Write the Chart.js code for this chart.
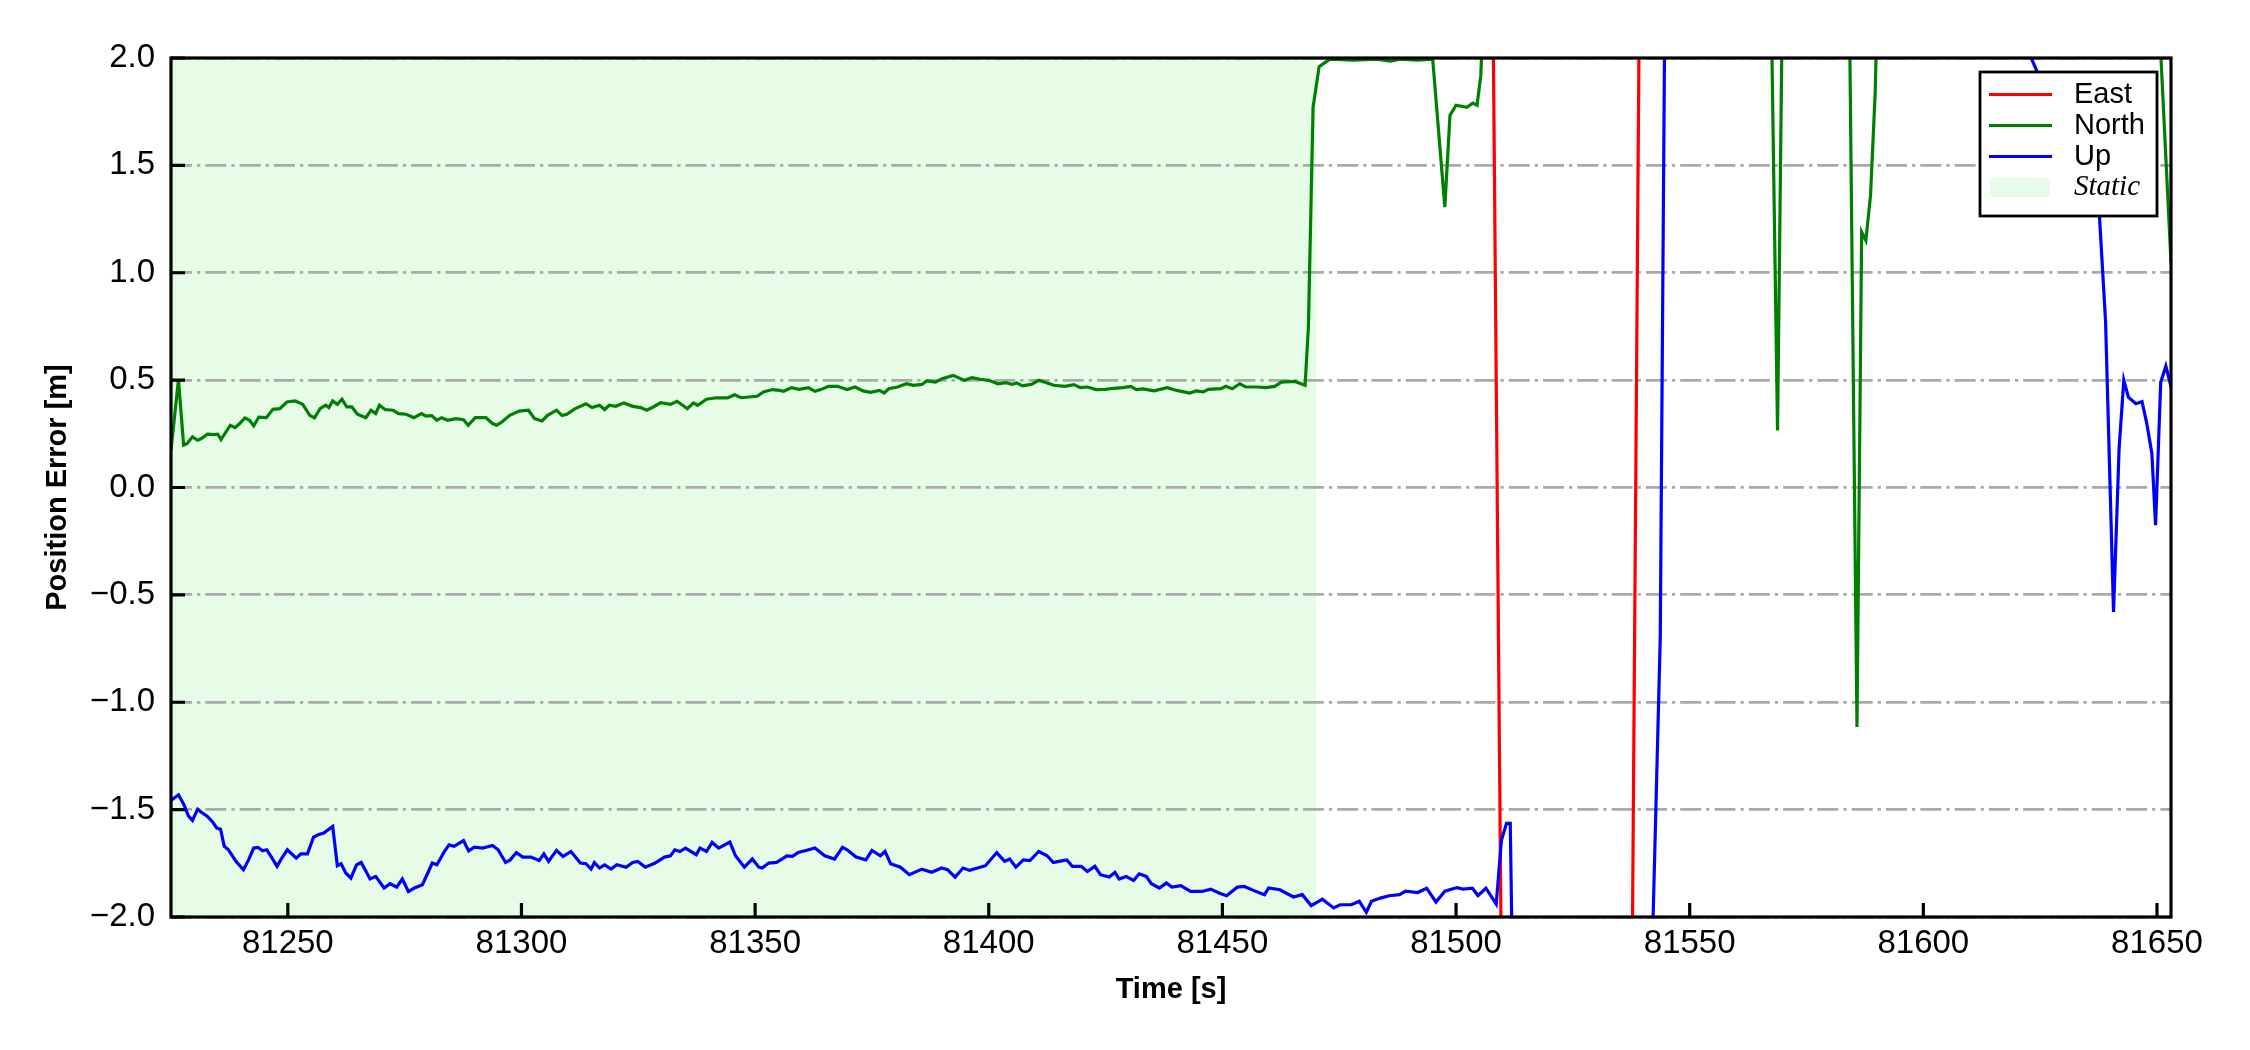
<!DOCTYPE html>
<html>
<head>
<meta charset="utf-8">
<script src="https://cdn.jsdelivr.net/npm/chart.js@4.4.0/dist/chart.umd.min.js"></script>
<style>
    html, body { margin: 0; padding: 0; background: #fff; }
    #quadro { width: 2250px; height: 1050px; }
</style>
</head>
<body>
<div id="quadro"><canvas id="grafico" width="2250" height="1050"></canvas></div>
<script>
// eixos
const xTicks = [81250, 81300, 81350, 81400, 81450, 81500, 81550, 81600, 81650];
const yTicks = [-2.0, -1.5, -1.0, -0.5, 0.0, 0.5, 1.0, 1.5, 2.0];
const xRange = [81225, 81653];
const yRange = [-2, 2];
const staticSpan = [81225, 81470];
const staticLabel = 'Static';
const seriesLabels = ['East', 'North', 'Up'];

// East: fora da escala quase o tempo todo
const eastTime = [81225, 81507.8, 81509.8, 81537.6, 81539.3, 81653];
const eastErr = [2.8, 2.5, -2.5, -2.5, 2.5, 2.8];

// North
const northTime = [
    81225, 81226.6, 81227.7, 81228.4, 81229.6, 81230.7, 81231.5, 81232.8, 81234.2, 81235.0,
    81235.7, 81237.7, 81238.7, 81239.7, 81240.8, 81241.8, 81242.7, 81243.8, 81245.4, 81246.8,
    81248.3, 81249.8, 81251.6, 81253.2, 81254.7, 81255.7, 81256.9, 81258.1, 81258.8, 81259.6,
    81260.6, 81261.6, 81262.6, 81263.7, 81264.9, 81266.7, 81267.8, 81268.8, 81269.6, 81270.8,
    81272.5, 81273.7, 81275.3, 81277.0, 81278.6, 81279.6, 81280.8, 81281.9, 81282.9, 81284.2,
    81286.0, 81287.6, 81288.6, 81290.1, 81292.4, 81293.8, 81294.7, 81295.8, 81297.5, 81299.5,
    81301.5, 81302.8, 81304.4, 81305.6, 81307.5, 81308.7, 81309.7, 81311.4, 81313.8, 81315.1,
    81316.7, 81317.8, 81318.8, 81320.2, 81321.9, 81323.8, 81325.5, 81326.8, 81328.2, 81329.8,
    81331.9, 81333.3, 81334.5, 81335.5, 81336.8, 81337.7, 81339.6, 81341.7, 81344.1, 81345.6,
    81347.0,
    81350.4, 81351.8, 81353.7, 81355.2, 81356.1, 81357.8, 81359.4, 81361.4, 81362.8, 81364.2,
    81365.7, 81367.6, 81369.7, 81371.4, 81373.1, 81374.7, 81376.6, 81377.6, 81378.6, 81380.5,
    81382.4, 81383.8, 81385.7, 81386.7, 81388.6, 81390.0, 81392.4, 81394.8, 81396.4, 81398.1,
    81400.0, 81402.0, 81403.7, 81405.0, 81406.0, 81407.2, 81409.1, 81410.7, 81412.5, 81413.9,
    81416.3, 81418.2, 81419.6, 81421.1, 81423.0, 81424.9, 81426.8, 81428.7, 81430.4, 81431.6,
    81433.0, 81435.4, 81438.2, 81440.2, 81443.0, 81444.4, 81445.9, 81447.0, 81449.7, 81450.7,
    81452.1, 81453.7, 81455.0, 81457.3, 81459.3, 81461.2, 81462.6, 81465.5, 81467.7,
    81468.4, 81469.4, 81470.7, 81471.7, 81473, 81478, 81483, 81486, 81488, 81491.8,
    81495, 81497.6, 81498.7, 81500, 81502.3, 81503.6, 81504.5, 81505.3, 81506.5, 81530,
    81567.2, 81568.8, 81570.0, 81577, 81584.0, 81585.8, 81586.8, 81587.7, 81588.7, 81589.7,
    81590.5, 81620, 81649.5, 81653
];
const northErr = [
    0.174, 0.502, 0.197, 0.204, 0.236, 0.22, 0.228, 0.248, 0.246, 0.248,
    0.223, 0.29, 0.279, 0.298, 0.324, 0.313, 0.287, 0.328, 0.325, 0.364,
    0.367, 0.398, 0.403, 0.387, 0.336, 0.324, 0.367, 0.383, 0.372, 0.403,
    0.387, 0.411, 0.375, 0.375, 0.341, 0.325, 0.36, 0.344, 0.383, 0.363,
    0.36, 0.344, 0.341, 0.325, 0.344, 0.332, 0.335, 0.313, 0.325, 0.313,
    0.321, 0.316, 0.29, 0.325, 0.325, 0.298, 0.29, 0.305, 0.336, 0.356,
    0.36, 0.321, 0.31, 0.336, 0.36, 0.335, 0.341, 0.366, 0.39, 0.372,
    0.383, 0.363, 0.383, 0.378, 0.394, 0.378, 0.372, 0.36, 0.375, 0.395,
    0.387, 0.401, 0.383, 0.367, 0.394, 0.383, 0.411, 0.418, 0.417, 0.432,
    0.418,
    0.425, 0.445, 0.456, 0.452, 0.448, 0.465, 0.457, 0.465, 0.448, 0.457,
    0.471, 0.471, 0.456, 0.468, 0.45, 0.443, 0.452, 0.44, 0.46, 0.468,
    0.483, 0.476, 0.48, 0.496, 0.491, 0.507, 0.522, 0.499, 0.511, 0.504,
    0.499, 0.483, 0.488, 0.48, 0.487, 0.473, 0.48, 0.499, 0.487, 0.476,
    0.471, 0.479, 0.465, 0.468, 0.456, 0.457, 0.462, 0.465, 0.471, 0.456,
    0.459, 0.45, 0.465, 0.452, 0.44, 0.45, 0.445, 0.457, 0.46, 0.471,
    0.46, 0.483, 0.468, 0.468, 0.465, 0.471, 0.491, 0.494, 0.476,
    0.745, 1.77, 1.96, 1.975, 1.995, 1.99, 1.995, 1.985, 1.995, 1.99,
    1.995, 1.306, 1.733, 1.78, 1.77, 1.79, 1.78, 1.92, 2.6, 2.6,
    2.6, 0.265, 2.6, 2.6, 2.6, -1.115, 1.19, 1.15, 1.36, 1.84,
    2.6, 2.6, 2.6, 1.05
];

// Up
const upTime = [
    81225, 81226.6, 81227.8, 81228.7, 81229.6, 81230.7, 81231.5, 81232.8, 81234.0, 81234.8,
    81235.6, 81236.4, 81237.3, 81238.9, 81240.5, 81241.6, 81242.7, 81243.6, 81244.6, 81245.5,
    81246.5, 81247.7, 81248.7, 81249.9, 81251.8, 81252.8, 81254.2, 81255.5, 81256.5, 81257.7,
    81259.6, 81260.6, 81261.4, 81262.4, 81263.5, 81264.7, 81265.7, 81267.6, 81268.8, 81270.6,
    81271.9, 81273.3, 81274.5, 81275.8, 81277.1, 81278.8, 81280.1, 81280.9, 81281.9, 81283.5,
    81284.5, 81285.6, 81287.6, 81288.7, 81289.9, 81291.7, 81293.8, 81295.0, 81296.6, 81297.6,
    81298.9, 81300.3, 81302.0, 81303.8, 81304.8, 81305.8, 81307.5, 81308.9, 81310.6, 81312.6,
    81313.8, 81314.9, 81315.6, 81316.7, 81317.8, 81319.2, 81320.4, 81322.4, 81323.8, 81324.9,
    81326.5, 81328.6, 81330.6, 81331.9, 81332.8, 81333.9, 81335.1, 81337.4,
    81338.2, 81339.6, 81340.8, 81342.2, 81344.6, 81345.8, 81347.7, 81349.4, 81350.8, 81351.5,
    81352.9, 81354.6, 81356.8, 81358.0, 81359.2, 81360.9, 81362.8, 81364.9, 81367.0, 81368.7,
    81369.7, 81371.6, 81373.7, 81375.0, 81376.8, 81377.8, 81379.0, 81381.1, 81383.0, 81385.7,
    81387.8, 81389.9, 81391.2, 81392.8, 81394.5, 81395.9, 81399.3, 81401.7, 81403.4, 81404.5,
    81405.8, 81407.4, 81408.8, 81410.7, 81412.5, 81413.8, 81415.0, 81416.7, 81417.9, 81419.8,
    81421.1, 81422.7, 81423.9, 81425.8, 81427.0, 81427.9, 81429.4, 81431.0, 81432.2, 81433.7,
    81434.8, 81436.5, 81438.0, 81439.2, 81441.1, 81443.2, 81445.6, 81447.5, 81449.4, 81450.9,
    81453.2, 81454.7, 81456.6, 81459.0, 81459.9, 81462.3, 81465.2, 81467.1, 81469.0, 81471.4,
    81473.8, 81475.2, 81477.6, 81479.3, 81480.8, 81481.9, 81483.8, 81485.7, 81487.9,
    81489.2, 81491.8, 81493.7, 81495.7, 81497.6, 81500.2, 81501.5, 81503.5, 81504.7, 81506.4,
    81508.6, 81509.7, 81510.8, 81511.6, 81512.6, 81541.0, 81543.7, 81544.8, 81580, 81618,
    81624.5, 81631, 81637.7, 81639, 81640.7, 81641.9, 81642.9, 81643.9, 81645.5, 81646.8,
    81647.8, 81648.9, 81649.7, 81650.8, 81651.9, 81653
];
const upErr = [
    -1.457, -1.431, -1.478, -1.529, -1.55, -1.498, -1.512, -1.532, -1.56, -1.586,
    -1.591, -1.671, -1.687, -1.741, -1.78, -1.734, -1.679, -1.676, -1.692, -1.687,
    -1.721, -1.764, -1.726, -1.687, -1.726, -1.706, -1.706, -1.628, -1.617, -1.609,
    -1.578, -1.761, -1.752, -1.795, -1.819, -1.757, -1.746, -1.823, -1.811, -1.865,
    -1.845, -1.861, -1.823, -1.881, -1.865, -1.85, -1.788, -1.749, -1.757, -1.695,
    -1.664, -1.671, -1.644, -1.692, -1.675, -1.679, -1.667, -1.687, -1.746, -1.734,
    -1.7, -1.721, -1.721, -1.737, -1.706, -1.741, -1.69, -1.718, -1.695, -1.749,
    -1.752, -1.777, -1.746, -1.772, -1.757, -1.777, -1.757, -1.768, -1.746, -1.741,
    -1.768, -1.749, -1.721, -1.715, -1.687, -1.695, -1.679, -1.71,
    -1.679, -1.695, -1.653, -1.679, -1.651, -1.715, -1.768, -1.73, -1.768, -1.772,
    -1.749, -1.746, -1.715, -1.718, -1.7, -1.69, -1.679, -1.715, -1.73, -1.676,
    -1.687, -1.721, -1.734, -1.69, -1.715, -1.695, -1.752, -1.768, -1.803, -1.777,
    -1.792, -1.772, -1.78, -1.814, -1.772, -1.783, -1.761, -1.7, -1.741, -1.73,
    -1.768, -1.734, -1.737, -1.695, -1.715, -1.746, -1.741, -1.734, -1.764, -1.764,
    -1.788, -1.764, -1.803, -1.814, -1.792, -1.823, -1.811, -1.83, -1.799, -1.811,
    -1.845, -1.865, -1.842, -1.861, -1.854, -1.881, -1.881, -1.87, -1.889, -1.901,
    -1.861, -1.858, -1.876, -1.896, -1.865, -1.873, -1.907, -1.896, -1.947, -1.917,
    -1.958, -1.943, -1.943, -1.927, -1.978, -1.927, -1.912, -1.901, -1.896,
    -1.88, -1.886, -1.866, -1.93, -1.88, -1.863, -1.87, -1.866, -1.9, -1.866,
    -1.94, -1.644, -1.564, -1.564, -3.0, -3.0, -0.70, 2.6, 2.6, 2.25,
    1.93, 1.6, 1.26, 0.773, -0.58, 0.185, 0.5, 0.42, 0.39, 0.4,
    0.3, 0.16, -0.175, 0.49, 0.565, 0.47
];

const seriesColors = ['#ff0000', '#008000', '#0000ff'];
const corEstatico = '#e6fce6';
const fonteSans = '"Liberation Sans", Arial, sans-serif';
const fonteSerif = '"Liberation Serif", "Times New Roman", serif';

function pares(ts, vs) {
    return ts.map((t, i) => ({ x: t, y: vs[i] }));
}

function formatarY(v) {
    return v.toFixed(1).replace('-', '\u2212');
}

// faixa verde do periodo estatico, por baixo da grade
const faixaEstatica = {
    id: 'faixaEstatica',
    beforeDraw(chart) {
        const { ctx, chartArea: a, scales: { x } } = chart;
        const x0 = x.getPixelForValue(staticSpan[0]);
        const x1 = x.getPixelForValue(staticSpan[1]);
        ctx.save();
        ctx.fillStyle = corEstatico;
        ctx.fillRect(x0, a.top, x1 - x0, a.bottom - a.top);
        ctx.restore();
    },
};

// ticks para dentro e caixa preta
const moldura = {
    id: 'moldura',
    afterDatasetsDraw(chart) {
        const { ctx, chartArea: a, scales: { x, y } } = chart;
        ctx.save();
        ctx.strokeStyle = '#000';
        ctx.lineWidth = 3.2;
        ctx.beginPath();
        xTicks.forEach(v => {
            const px = x.getPixelForValue(v);
            ctx.moveTo(px, a.bottom);
            ctx.lineTo(px, a.bottom - 14);
        });
        yTicks.forEach(v => {
            const py = y.getPixelForValue(v);
            ctx.moveTo(a.left, py);
            ctx.lineTo(a.left + 14, py);
        });
        ctx.stroke();
        ctx.strokeRect(a.left, a.top, a.right - a.left, a.bottom - a.top);
        ctx.restore();
    },
};

const legenda = {
    id: 'legenda',
    afterDraw(chart) {
        const { ctx, chartArea: a } = chart;
        const w = 177, h = 144;
        const left = a.right - 14 - w;
        const top = a.top + 14;
        ctx.save();
        ctx.fillStyle = '#fff';
        ctx.fillRect(left, top, w, h);
        ctx.lineWidth = 2.8;
        ctx.strokeStyle = '#000';
        ctx.strokeRect(left, top, w, h);
        ctx.textBaseline = 'middle';
        ctx.textAlign = 'left';
        chart.data.datasets.forEach((ds, i) => {
            const yy = top + 22.5 + i * 31;
            ctx.strokeStyle = ds.borderColor;
            ctx.lineWidth = 3.2;
            ctx.beginPath();
            ctx.moveTo(left + 9, yy);
            ctx.lineTo(left + 72, yy);
            ctx.stroke();
            ctx.fillStyle = '#000';
            ctx.font = '29px ' + fonteSans;
            ctx.fillText(ds.label, left + 94, yy);
        });
        const ys = top + 22.5 + 3 * 31;
        ctx.fillStyle = corEstatico;
        ctx.fillRect(left + 10, ys - 9.5, 60, 19);
        ctx.fillStyle = '#000';
        ctx.font = 'italic 29px ' + fonteSerif;
        ctx.fillText(staticLabel, left + 94, ys);
        ctx.restore();
    },
};

const times = [eastTime, northTime, upTime];
const errs = [eastErr, northErr, upErr];

new Chart(document.getElementById('grafico'), {
    type: 'line',
    data: {
        datasets: seriesLabels.map((label, i) => ({
            label,
            data: pares(times[i], errs[i]),
            borderColor: seriesColors[i],
            backgroundColor: seriesColors[i],
            borderWidth: 3.2,
            pointRadius: 0,
            tension: 0,
            fill: false,
            clip: 0,
            order: 3 - i,
        })),
    },
    options: {
        responsive: false,
        devicePixelRatio: 1,
        animation: false,
        layout: { padding: { top: 58, right: 79, bottom: 0, left: 0 } },
        plugins: { legend: { display: false }, tooltip: { enabled: false } },
        scales: {
            x: {
                type: 'linear',
                min: xRange[0],
                max: xRange[1],
                afterBuildTicks: s => { s.ticks = xTicks.map(v => ({ value: v })); },
                afterFit: s => { s.height = 133; },
                grid: { display: false, drawTicks: false },
                border: { display: false },
                ticks: {
                    color: '#000',
                    font: { family: fonteSans, size: 33 },
                    padding: 7,
                    autoSkip: false,
                    maxRotation: 0,
                    minRotation: 0,
                    callback: v => String(v),
                },
                title: {
                    display: true,
                    text: 'Time [s]',
                    color: '#000',
                    font: { family: fonteSans, size: 29, weight: 'bold' },
                    padding: { top: 0, bottom: 42.6 },
                },
            },
            y: {
                type: 'linear',
                min: yRange[0],
                max: yRange[1],
                afterBuildTicks: s => { s.ticks = yTicks.map(v => ({ value: v })); },
                afterFit: s => { s.width = 171; },
                grid: { color: '#aaaaaa', lineWidth: 2.8, drawTicks: false },
                border: { display: false, dash: [21, 5, 3.3, 5] },
                ticks: {
                    color: '#000',
                    font: { family: fonteSans, size: 33 },
                    padding: 16,
                    callback: v => formatarY(v),
                },
                title: {
                    display: true,
                    text: 'Position Error [m]',
                    color: '#000',
                    font: { family: fonteSans, size: 29, weight: 'bold' },
                    padding: { top: 40.6, bottom: 0 },
                },
            },
        },
    },
    plugins: [faixaEstatica, moldura, legenda],
});
</script>
</body>
</html>
